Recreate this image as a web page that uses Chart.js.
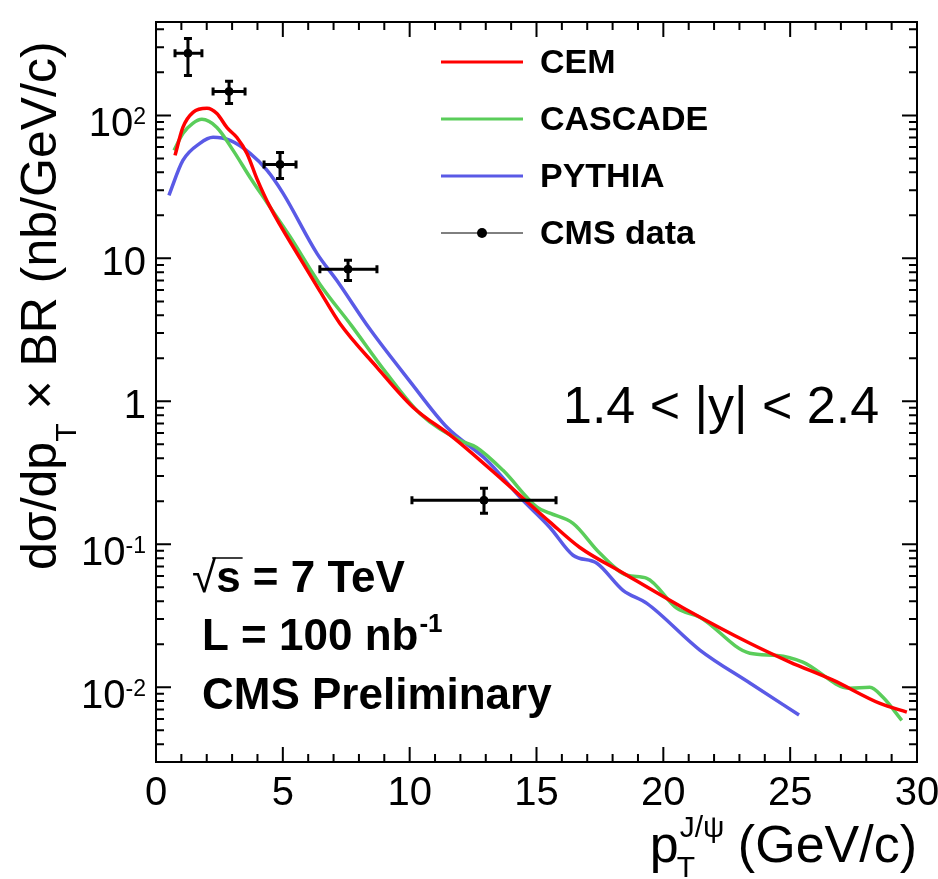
<!DOCTYPE html>
<html>
<head>
<meta charset="utf-8">
<title>J/psi cross section vs pT, 1.4 &lt; |y| &lt; 2.4</title>
<script src="https://cdn.jsdelivr.net/npm/chart.js@4.4.1/dist/chart.umd.min.js"></script>
<style>
    html, body { margin: 0; padding: 0; background: #fff; }
    #wrap { width: 938px; height: 879px; }
</style>
</head>
<body>
<div id="wrap"><canvas id="chart" width="938" height="879"></canvas></div>
<script>
// Model curves (pT in GeV/c, dsigma/dpT x BR in nb/GeV/c)
const cemPt = [0.75, 1.06, 1.46, 2.01, 2.40, 2.80, 3.19, 3.59, 3.98, 4.49, 5.68, 6.46, 7.25, 8.71, 10.13, 11.71, 13.68, 15.53, 16.71, 18.41, 20.77, 23.41, 24.99, 26.69, 28.54, 29.6];
const cemVal = [52.5, 82.4, 105, 112, 103, 82, 70, 54, 36, 23, 10.0, 5.9, 3.5, 1.73, 0.91, 0.56, 0.28, 0.143, 0.095, 0.063, 0.036, 0.0203, 0.0150, 0.0112, 0.0077, 0.0067];

const cascadePt = [0.71, 1.06, 1.45, 1.81, 2.40, 3.04, 3.71, 4.38, 5.28, 6.46, 7.7, 9.09, 10.41, 11.98, 12.64, 13.68, 15.02, 15.53, 16.44, 17.50, 18.57, 19.35, 20.54, 21.44, 23.41, 24.48, 25.50, 27.35, 28.14, 28.66, 29.40];
const cascadeVal = [56.9, 74.8, 88, 93.8, 82.4, 56.9, 36.8, 24.5, 14.2, 6.6, 3.4, 1.57, 0.82, 0.533, 0.476, 0.329, 0.182, 0.165, 0.140, 0.0865, 0.0607, 0.0578, 0.0356, 0.0309, 0.0173, 0.0167, 0.0150, 0.00984, 0.0100, 0.0085, 0.00587];

const pythiaPt = [0.51, 1.06, 1.73, 2.25, 2.92, 3.71, 4.38, 5.01, 6.35, 7.13, 8.43, 10.01, 11.47, 13.05, 14.35, 15.53, 16.44, 17.38, 18.41, 19.35, 21.44, 23.41, 25.35];
const pythiaVal = [27.6, 48.4, 63.7, 70.2, 66.8, 54.2, 41.2, 28.5, 10.8, 7.0, 3.2, 1.38, 0.658, 0.386, 0.213, 0.131, 0.0838, 0.0736, 0.0476, 0.0386, 0.0182, 0.0107, 0.0064];

// CMS data points with errors
const dataPt = [1.26, 2.88, 4.89, 7.57, 12.93];
const dataPtLo = [0.75, 2.25, 4.26, 6.46, 10.09];
const dataPtHi = [1.81, 3.51, 5.52, 8.71, 15.77];
const dataVal = [272, 147, 45.4, 8.4, 0.203];
const dataValLo = [190, 121, 36.2, 7.0, 0.165];
const dataValHi = [345, 173, 55, 9.7, 0.247];

// Axis ticks
const xMajorTicks = [0, 5, 10, 15, 20, 25, 30];
const yMajorTicks = [0.01, 0.1, 1, 10, 100];
const yTickLabels = [['10', '-2'], ['10', '-1'], ['1', ''], ['10', ''], ['10', '2']];

const legendLabels = ['CEM', 'CASCADE', 'PYTHIA', 'CMS data'];
const COLORS = ['rgb(255,0,0)', 'rgb(90,205,90)', 'rgb(90,90,230)'];
const FONT = '"Liberation Sans", Arial, Helvetica, sans-serif';

function toXY(xs, ys) {
    return xs.map((x, i) => ({ x: x, y: ys[i] }));
}

// text with optional superscript, right aligned at xRight
function drawTickLabel(ctx, base, exp, xRight, yTick) {
    ctx.textAlign = 'left';
    ctx.textBaseline = 'alphabetic';
    ctx.font = '40px ' + FONT;
    const wb = ctx.measureText(base).width;
    if (!exp) {
        ctx.fillText(base, xRight - wb, yTick + 17);
        return;
    }
    ctx.font = '23px ' + FONT;
    const we = ctx.measureText(exp).width;
    ctx.font = '40px ' + FONT;
    ctx.fillText(base, xRight - wb - we, yTick + 21);
    ctx.font = '23px ' + FONT;
    ctx.fillText(exp, xRight - we, yTick + 9);
}

const rootStyle = {
    id: 'rootStyle',
    afterDatasetsDraw(chart) {
        const ctx = chart.ctx;
        const xs = chart.scales.x, ys = chart.scales.y;
        ctx.save();
        ctx.strokeStyle = '#000';
        ctx.lineWidth = 3;
        dataPt.forEach((pt, i) => {
            const px = xs.getPixelForValue(pt);
            const py = ys.getPixelForValue(dataVal[i]);
            const x1 = xs.getPixelForValue(dataPtLo[i]);
            const x2 = xs.getPixelForValue(dataPtHi[i]);
            const y1 = ys.getPixelForValue(dataValHi[i]);
            const y2 = ys.getPixelForValue(dataValLo[i]);
            ctx.beginPath();
            ctx.moveTo(x1, py); ctx.lineTo(x2, py);
            ctx.moveTo(px, y1); ctx.lineTo(px, y2);
            ctx.moveTo(x1, py - 4); ctx.lineTo(x1, py + 4);
            ctx.moveTo(x2, py - 4); ctx.lineTo(x2, py + 4);
            ctx.moveTo(px - 4, y1); ctx.lineTo(px + 4, y1);
            ctx.moveTo(px - 4, y2); ctx.lineTo(px + 4, y2);
            ctx.stroke();
        });
        ctx.restore();
    },
    afterDraw(chart) {
        const ctx = chart.ctx;
        const area = chart.chartArea;
        const xs = chart.scales.x, ys = chart.scales.y;
        ctx.save();
        ctx.fillStyle = '#000';
        ctx.strokeStyle = '#000';

        // frame
        ctx.lineWidth = 2;
        ctx.strokeRect(area.left, area.top, area.right - area.left, area.bottom - area.top);

        // x ticks (inside, bottom and top)
        ctx.beginPath();
        for (let v = 0; v <= 30; v++) {
            const len = v % 5 === 0 ? 15 : 8;
            const px = xs.getPixelForValue(v);
            ctx.moveTo(px, area.bottom); ctx.lineTo(px, area.bottom - len);
            ctx.moveTo(px, area.top); ctx.lineTo(px, area.top + len);
        }
        // y ticks (log, inside, left and right)
        for (let d = -3; d <= 2; d++) {
            for (let k = 1; k <= 9; k++) {
                const v = k * Math.pow(10, d);
                if (v < ys.min || v > ys.max) continue;
                const len = k === 1 ? 15 : 8;
                const py = ys.getPixelForValue(v);
                ctx.moveTo(area.left, py); ctx.lineTo(area.left + len, py);
                ctx.moveTo(area.right, py); ctx.lineTo(area.right - len, py);
            }
        }
        ctx.stroke();

        // tick labels
        ctx.font = '40px ' + FONT;
        ctx.textAlign = 'center';
        ctx.textBaseline = 'alphabetic';
        xMajorTicks.forEach(v => {
            ctx.fillText(String(v), xs.getPixelForValue(v), area.bottom + 43);
        });
        yMajorTicks.forEach((v, i) => {
            drawTickLabel(ctx, yTickLabels[i][0], yTickLabels[i][1], 146, ys.getPixelForValue(v));
        });

        // x title: p_T^{J/psi} (GeV/c)
        ctx.textAlign = 'left';
        ctx.font = '52px ' + FONT;
        const wP = ctx.measureText('p').width;
        const wRest = ctx.measureText(' (GeV/c)').width;
        ctx.font = '30px ' + FONT;
        const wSup = ctx.measureText('J/\u03c8').width;
        let tx = area.right - wRest - wSup - wP;
        ctx.font = '52px ' + FONT;
        ctx.fillText('p', tx, 862);
        ctx.font = '30px ' + FONT;
        ctx.fillText('J/\u03c8', tx + wP + 1, 837);
        ctx.fillText('T', tx + wP - 2, 877);
        ctx.font = '52px ' + FONT;
        ctx.fillText(' (GeV/c)', tx + wP + wSup, 862);

        // y title: dsigma/dp_T x BR (nb/GeV/c)
        ctx.save();
        ctx.translate(56, 570);
        ctx.rotate(-Math.PI / 2);
        ctx.font = '50px ' + FONT;
        let ty = 0;
        ctx.fillText('d\u03c3/dp', ty, 0);
        ty += ctx.measureText('d\u03c3/dp').width;
        ctx.font = '30px ' + FONT;
        ctx.fillText('T', ty, 20);
        ty += ctx.measureText('T').width;
        ctx.font = '50px ' + FONT;
        ctx.fillText(' \u00d7 BR (nb/GeV/c)', ty, 0);
        ctx.restore();

        // rapidity range
        ctx.font = '52px ' + FONT;
        ctx.fillText('1.4 < |y| < 2.4', 563, 423);

        // left annotation
        ctx.font = '44px ' + FONT;
        ctx.fillText('\u221a', 192, 592);
        const wRoot = ctx.measureText('\u221a').width;
        ctx.font = 'bold 44px ' + FONT;
        const wS = ctx.measureText('s').width;
        ctx.fillText('s = 7 TeV', 192 + wRoot, 592);
        ctx.lineWidth = 1.5;
        ctx.beginPath();
        ctx.moveTo(192 + wRoot - 4, 558);
        ctx.lineTo(192 + wRoot + wS + 2, 558);
        ctx.stroke();
        ctx.fillText('L = 100 nb', 202, 650);
        const wL = ctx.measureText('L = 100 nb').width;
        ctx.font = 'bold 26px ' + FONT;
        ctx.fillText('-1', 202 + wL + 1, 632);
        ctx.font = 'bold 44px ' + FONT;
        ctx.fillText('CMS Preliminary', 202, 709);

        // legend
        const rowY = [62, 119, 176, 233];
        ctx.textBaseline = 'middle';
        ctx.font = 'bold 34px ' + FONT;
        legendLabels.forEach((lab, i) => {
            ctx.beginPath();
            if (i < 3) {
                ctx.strokeStyle = COLORS[i];
                ctx.lineWidth = 3;
            } else {
                ctx.strokeStyle = '#000';
                ctx.lineWidth = 1;
            }
            ctx.moveTo(441, rowY[i]); ctx.lineTo(523, rowY[i]);
            ctx.stroke();
            if (i === 3) {
                ctx.beginPath();
                ctx.arc(482, rowY[i], 5, 0, Math.PI * 2);
                ctx.fill();
            }
            ctx.fillText(lab, 540, rowY[i] + 2);
        });
        ctx.restore();
    }
};

const curveStyle = {
    borderWidth: 3.5,
    pointRadius: 0,
    fill: false,
    cubicInterpolationMode: 'monotone'
};

new Chart(document.getElementById('chart'), {
    type: 'line',
    data: {
        datasets: [
            Object.assign({ label: 'CEM', data: toXY(cemPt, cemVal), borderColor: COLORS[0] }, curveStyle),
            Object.assign({ label: 'CASCADE', data: toXY(cascadePt, cascadeVal), borderColor: COLORS[1] }, curveStyle),
            Object.assign({ label: 'PYTHIA', data: toXY(pythiaPt, pythiaVal), borderColor: COLORS[2] }, curveStyle),
            {
                type: 'scatter',
                label: 'CMS data',
                data: toXY(dataPt, dataVal),
                pointRadius: 4,
                backgroundColor: '#000',
                borderColor: '#000',
                showLine: false
            }
        ]
    },
    options: {
        responsive: false,
        animation: false,
        devicePixelRatio: 1,
        layout: { padding: { left: 156, right: 21, top: 22, bottom: 117 } },
        scales: {
            x: { type: 'linear', min: 0, max: 30, display: false },
            y: { type: 'logarithmic', min: 0.003, max: 450, display: false }
        },
        plugins: {
            legend: { display: false },
            tooltip: { enabled: false }
        }
    },
    plugins: [rootStyle]
});
</script>
</body>
</html>
